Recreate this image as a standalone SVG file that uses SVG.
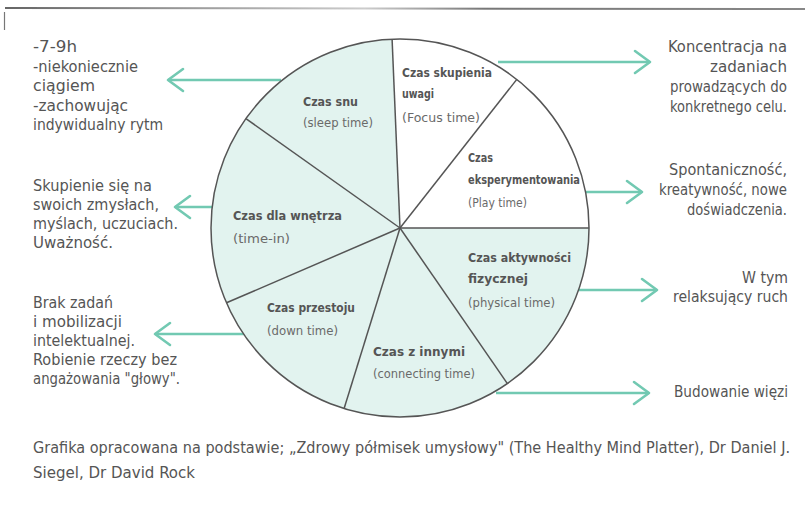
<svg xmlns="http://www.w3.org/2000/svg" width="805" height="506" viewBox="0 0 805 506">
<defs>
<marker id="ah" markerUnits="userSpaceOnUse" markerWidth="24" markerHeight="28" refX="17" refY="12" orient="auto" overflow="visible">
<path d="M2,1 L17,12 L2,23" fill="none" stroke="#72c9b2" stroke-width="2.6" stroke-linecap="round" stroke-linejoin="round"/>
</marker>
<linearGradient id="frame" x1="0" x2="1" y1="0" y2="0">
<stop offset="0" stop-color="#666"/><stop offset="0.45" stop-color="#ccc"/><stop offset="0.6" stop-color="#777"/><stop offset="1" stop-color="#888"/>
</linearGradient>
</defs>
<style>
.t{font-family:"DejaVu Sans Condensed","Liberation Sans Narrow","DejaVu Sans",sans-serif;fill:#555;font-size:15px}
.h{font-family:"DejaVu Sans Condensed","DejaVu Sans",sans-serif;fill:#555;font-size:13px;font-weight:bold}
.p{font-family:"DejaVu Sans Condensed","DejaVu Sans",sans-serif;fill:#6a6a6a;font-size:13px}
.c{stroke:#72c9b2;stroke-width:2.6;fill:none;marker-end:url(#ah)}
.ln{stroke:#555;stroke-width:1.5;fill:none}
</style>
<rect width="805" height="506" fill="#fff"/>
<line x1="5" y1="8" x2="805" y2="9" stroke="url(#frame)" stroke-width="2"/>
<line x1="4.5" y1="12" x2="4.5" y2="30" stroke="#777" stroke-width="1.2"/>

<g id="connectors">
<line class="c" x1="281" y1="80" x2="168" y2="80"/>
<line class="c" x1="212" y1="207" x2="175" y2="207"/>
<line class="c" x1="244" y1="334" x2="155" y2="334"/>
<line class="c" x1="498" y1="62" x2="650" y2="62"/>
<line class="c" x1="586" y1="192" x2="642" y2="192"/>
<line class="c" x1="578" y1="290" x2="657" y2="290"/>
<line class="c" x1="496" y1="393" x2="649" y2="393"/>
</g>

<g id="pie">
<circle cx="400" cy="228" r="189" fill="#e2f3ef"/>
<path d="M400,228 L392.1,39.2 A189,189 0 0 1 589,228 Z" fill="#fff"/>
<g class="ln">
<line x1="400" y1="228" x2="392.1" y2="39.2"/>
<line x1="400" y1="228" x2="516.8" y2="79.4"/>
<line x1="400" y1="228" x2="589" y2="228"/>
<line x1="400" y1="228" x2="507.4" y2="383.6"/>
<line x1="400" y1="228" x2="344.1" y2="408.5"/>
<line x1="400" y1="228" x2="226.5" y2="302.8"/>
<line x1="400" y1="228" x2="245.9" y2="118.6"/>
<circle cx="400" cy="228" r="189"/>
</g>
</g>

<g id="sleep">
<text class="h" x="303" y="106" textLength="55" lengthAdjust="spacingAndGlyphs">Czas snu</text>
<text class="p" x="303" y="127" textLength="70" lengthAdjust="spacingAndGlyphs">(sleep time)</text>
</g>
<g id="focus">
<text class="h" x="402" y="77" textLength="90" lengthAdjust="spacingAndGlyphs">Czas skupienia</text>
<text class="h" x="402" y="98" textLength="32" lengthAdjust="spacingAndGlyphs">uwagi</text>
<text class="p" x="402" y="122" textLength="78" lengthAdjust="spacingAndGlyphs">(Focus time)</text>
</g>
<g id="play">
<text class="h" x="468" y="162" textLength="25" lengthAdjust="spacingAndGlyphs">Czas</text>
<text class="h" x="468" y="184" textLength="112" lengthAdjust="spacingAndGlyphs">eksperymentowania</text>
<text class="p" x="468" y="207" textLength="59" lengthAdjust="spacingAndGlyphs">(Play time)</text>
</g>
<g id="physical">
<text class="h" x="468" y="262" textLength="103" lengthAdjust="spacingAndGlyphs">Czas aktywności</text>
<text class="h" x="468" y="283" textLength="60" lengthAdjust="spacingAndGlyphs">fizycznej</text>
<text class="p" x="468" y="307" textLength="87" lengthAdjust="spacingAndGlyphs">(physical time)</text>
</g>
<g id="connecting">
<text class="h" x="373" y="356" textLength="92" lengthAdjust="spacingAndGlyphs">Czas z innymi</text>
<text class="p" x="373" y="378" textLength="102" lengthAdjust="spacingAndGlyphs">(connecting time)</text>
</g>
<g id="down">
<text class="h" x="267" y="312" textLength="88" lengthAdjust="spacingAndGlyphs">Czas przestoju</text>
<text class="p" x="267" y="335" textLength="71" lengthAdjust="spacingAndGlyphs">(down time)</text>
</g>
<g id="timein">
<text class="h" x="233" y="220" textLength="109" lengthAdjust="spacingAndGlyphs">Czas dla wnętrza</text>
<text class="p" x="233" y="243" textLength="57" lengthAdjust="spacingAndGlyphs">(time-in)</text>
</g>

<g id="note-sleep">
<text class="t" x="33" y="52" textLength="44" lengthAdjust="spacingAndGlyphs">-7-9h</text>
<text class="t" x="33" y="72" textLength="105" lengthAdjust="spacingAndGlyphs">-niekoniecznie</text>
<text class="t" x="33" y="91" textLength="62" lengthAdjust="spacingAndGlyphs">ciągiem</text>
<text class="t" x="33" y="111" textLength="95" lengthAdjust="spacingAndGlyphs">-zachowując</text>
<text class="t" x="33" y="130" textLength="130" lengthAdjust="spacingAndGlyphs">indywidualny rytm</text>
</g>
<g id="note-timein">
<text class="t" x="33" y="191" textLength="119" lengthAdjust="spacingAndGlyphs">Skupienie się na</text>
<text class="t" x="33" y="210" textLength="126" lengthAdjust="spacingAndGlyphs">swoich zmysłach,</text>
<text class="t" x="33" y="229" textLength="145" lengthAdjust="spacingAndGlyphs">myślach, uczuciach.</text>
<text class="t" x="33" y="248" textLength="80" lengthAdjust="spacingAndGlyphs">Uważność.</text>
</g>
<g id="note-down">
<text class="t" x="33" y="308" textLength="80" lengthAdjust="spacingAndGlyphs">Brak zadań</text>
<text class="t" x="33" y="327" textLength="89" lengthAdjust="spacingAndGlyphs">i mobilizacji</text>
<text class="t" x="33" y="346" textLength="102" lengthAdjust="spacingAndGlyphs">intelektualnej.</text>
<text class="t" x="33" y="365" textLength="144" lengthAdjust="spacingAndGlyphs">Robienie rzeczy bez</text>
<text class="t" x="33" y="384" textLength="147" lengthAdjust="spacingAndGlyphs">angażowania "głowy".</text>
</g>
<g id="note-focus">
<text class="t" x="668" y="52" textLength="119" lengthAdjust="spacingAndGlyphs">Koncentracja na</text>
<text class="t" x="710" y="72" textLength="77" lengthAdjust="spacingAndGlyphs">zadaniach</text>
<text class="t" x="670" y="92" textLength="117" lengthAdjust="spacingAndGlyphs">prowadzących do</text>
<text class="t" x="670" y="112" textLength="117" lengthAdjust="spacingAndGlyphs">konkretnego celu.</text>
</g>
<g id="note-play">
<text class="t" x="669" y="175" textLength="118" lengthAdjust="spacingAndGlyphs">Spontaniczność,</text>
<text class="t" x="659" y="195" textLength="128" lengthAdjust="spacingAndGlyphs">kreatywność, nowe</text>
<text class="t" x="687" y="215" textLength="100" lengthAdjust="spacingAndGlyphs">doświadczenia.</text>
</g>
<g id="note-physical">
<text class="t" x="742" y="283" textLength="46" lengthAdjust="spacingAndGlyphs">W tym</text>
<text class="t" x="673" y="302" textLength="115" lengthAdjust="spacingAndGlyphs">relaksujący ruch</text>
</g>
<g id="note-connecting">
<text class="t" x="674" y="397" textLength="114" lengthAdjust="spacingAndGlyphs">Budowanie więzi</text>
</g>
<g id="footnote">
<text class="t" x="33" y="453" textLength="757" lengthAdjust="spacingAndGlyphs">Grafika opracowana na podstawie; „Zdrowy półmisek umysłowy" (The Healthy Mind Platter), Dr Daniel J.</text>
<text class="t" x="33" y="478" textLength="162" lengthAdjust="spacingAndGlyphs">Siegel, Dr David Rock</text>
</g>
</svg>
